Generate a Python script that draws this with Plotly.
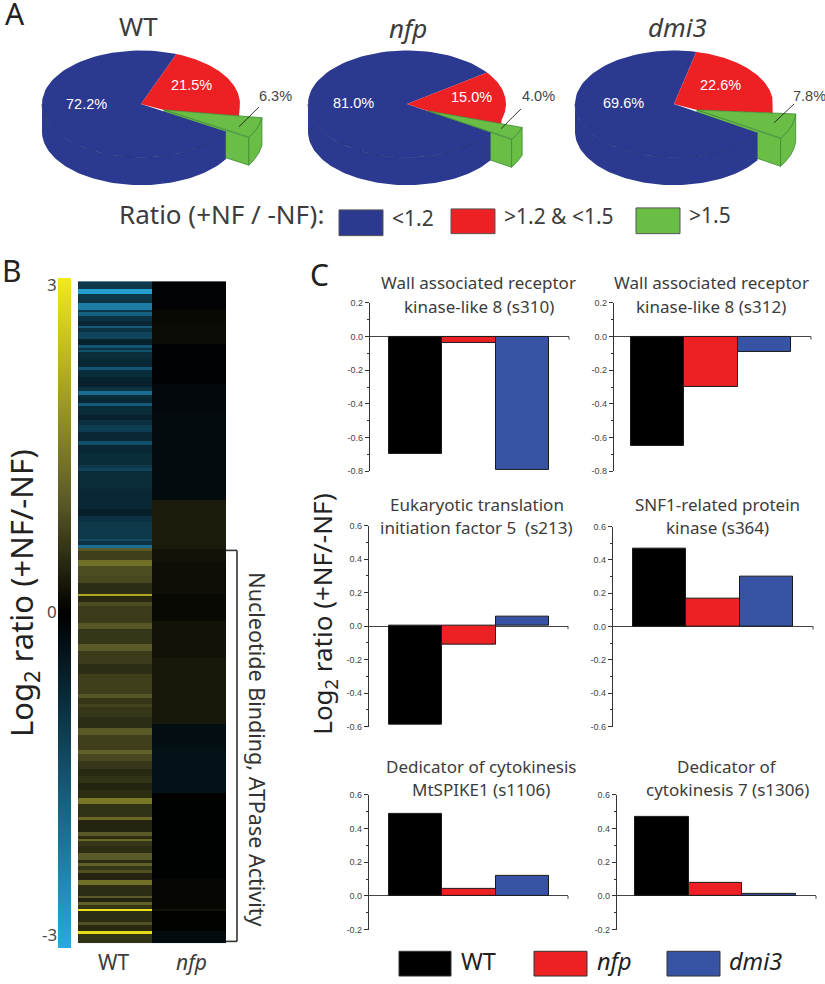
import numpy as np
import plotly.graph_objects as go

W, H = 825, 984

# ---------- data ----------
pie_names = ["WT", "nfp", "dmi3"]
pie_low = [72.2, 81.0, 69.6]
pie_mid = [21.5, 15.0, 22.6]
pie_high = [6.3, 4.0, 7.8]

bar_titles = [
    ["Wall associated receptor", "kinase-like 8 (s310)"],
    ["Wall associated receptor", "kinase-like 8 (s312)"],
    ["Eukaryotic translation", "initiation factor 5  (s213)"],
    ["SNF1-related protein", "kinase (s364)"],
    ["Dedicator of cytokinesis", "MtSPIKE1 (s1106)"],
    ["Dedicator of", "cytokinesis 7 (s1306)"],
]
bar_wt = [-0.70, -0.65, -0.59, 0.47, 0.49, 0.47]
bar_nfp = [-0.04, -0.30, -0.11, 0.165, 0.04, 0.08]
bar_dmi3 = [-0.79, -0.09, 0.055, 0.30, 0.12, 0.01]

wt_runs = [8,5,5,4,7,2,4,5,5,2,4,7,7,3,2,2,6,9,3,7,10,4,4,3,5,3,9,5,5,7,10,4,8,12,3,3,18,20,
           7,6,18,2,4,3,
           3,9,6,10,7,2,9,2,6,4,17,7,15,7,13,10,20,4,6,3,10,12,7,12,
           3,4,7,8,7,7,7,8,6,14,3,12,4,3,2,5,7,7,3,3,4,3,7,5,11,2,4,3,4,2,12,3,6,3,9]
wt_vals = [-1.0,-2.8,-1.0,-0.9,-2.2,-1.0,-1.7,-0.9,-0.7,-1.6,-0.9,-1.2,-0.6,-1.5,-0.9,-1.4,-0.8,-0.7,-1.5,-0.8,-0.6,-0.9,-1.9,-0.8,-0.7,-1.6,-0.8,-0.6,-0.85,-1.1,-0.7,-1.4,-0.7,-0.8,-1.0,-1.2,-0.75,-0.7,
           -0.55,-0.9,-1.0,-1.3,-0.9,-2.0,
           1.0,0.7,1.3,0.85,0.8,0.5,0.5,2.1,0.45,0.85,0.65,0.95,0.6,1.0,0.65,0.5,0.7,0.95,0.6,0.75,0.6,0.5,1.0,0.7,
           0.7,1.1,0.8,0.6,0.45,0.55,0.4,0.5,1.4,0.55,1.2,0.4,1.0,0.5,1.2,0.6,0.5,1.0,0.5,1.1,0.6,0.9,0.4,1.3,0.5,1.0,0.4,1.1,0.6,2.9,0.5,0.9,0.45,2.8,0.55]
nfp_runs = [28,13,23,40,30,87,10,40,13,33,27,37,67,23,47,87,30,2,21,12]
nfp_vals = [-0.05,0.1,0.12,-0.04,-0.15,-0.2,0.3,0.3,0.2,0.15,0.1,0.2,0.25,-0.25,-0.3,-0.03,0.07,0.2,0.02,-0.2]

heat_ticks = [3, 0, -3]

# ---------- colours ----------
BLUE, RED, GREEN = "#2B3990", "#ED2024", "#6ABD45"
BAR_BLUE = "#3953A4"
TXT = "#3c3c3c"
SANS = "Noto Sans, sans-serif"
HELV = "Liberation Sans, sans-serif"
NARROW = "Liberation Sans Narrow, Liberation Sans, sans-serif"

fig = go.Figure()
ann = []
shapes = []


def text(x, y, s, size, color=TXT, font=SANS, angle=0, anchor="center"):
    if angle == 0:
        y -= 0.19 * size
    ann.append(dict(x=x / W, y=1 - y / H, xref="paper", yref="paper", text=s, showarrow=False,
                    xanchor=anchor, yanchor="middle", textangle=angle,
                    font=dict(size=size, color=color, family=font)))


def rect(x0, y0, x1, y1, fill, line="#444444"):
    shapes.append(dict(type="rect", xref="paper", yref="paper", x0=x0 / W, x1=x1 / W,
                       y0=1 - y0 / H, y1=1 - y1 / H, fillcolor=fill, line=dict(color=line, width=1)))


def pline(x0, y0, x1, y1, color="#333333", width=1.0):
    shapes.append(dict(type="line", xref="paper", yref="paper", x0=x0 / W, x1=x1 / W,
                       y0=1 - y0 / H, y1=1 - y1 / H, line=dict(color=color, width=width)))


# ---------- A: pies (extruded ellipses computed from the percentages) ----------
RX, RY, DEPTH = 99, 54, 28
pie_layout = [
    dict(cx=141, cy=100, start=69, dx=23, dy=6, low=(86, 103), mid=(191, 84), hi=(275, 95), lead=(239, 123, 259, 103)),
    dict(cx=407, cy=100, start=36, dx=21, dy=7, low=(353, 102), mid=(471, 96), hi=(538, 95), lead=(501, 125, 521, 105)),
    dict(cx=674, cy=100, start=77, dx=23, dy=6, low=(623, 102), mid=(720, 84), hi=(809, 95), lead=(774, 119, 794, 100)),
]


def arc(cx, cy, a1, a2):
    t = np.radians(np.linspace(a1, a2, 90))
    return cx + RX * np.cos(t), cy - RY * np.sin(t)


def poly(xs, ys, fill, line=None, lw=0.8):
    fig.add_trace(go.Scatter(x=xs, y=ys, mode="lines", fill="toself", fillcolor=fill,
                             line=dict(color=line or fill, width=lw if line else 0),
                             hoverinfo="skip", showlegend=False, xaxis="x", yaxis="y"))


for i, p in enumerate(pie_layout):
    cx, cy, a0 = p["cx"], p["cy"], p["start"]
    a_red = a0 - 3.6 * pie_mid[i]
    a_grn = a_red - 3.6 * pie_high[i]
    a_blue = a_grn + 360
    gx, gy = cx + p["dx"], cy + p["dy"]
    EDGE = "#3f8a35"

    # green cut face (behind the blue body)
    ex, ey = arc(gx, gy, a_grn, a_grn)
    poly([gx, ex[0], ex[0], gx, gx], [gy, ey[0], ey[0] + DEPTH, gy + DEPTH, gy], GREEN, EDGE)

    # blue wall and top
    wx, wy = arc(cx, cy, 180, a_blue)
    poly(np.r_[wx, wx[::-1]], np.r_[wy, wy[::-1] + DEPTH], BLUE)
    bx, by = arc(cx, cy, a0, a_blue)
    poly(np.r_[cx, bx, cx], np.r_[cy, by, cy], BLUE)
    fig.add_trace(go.Scatter(x=wx, y=wy, mode="lines", line=dict(color="#26307c", width=0.8),
                             hoverinfo="skip", showlegend=False, xaxis="x", yaxis="y"))

    # green outer arc, used below and for closing the red slice against it
    ox, oy = arc(gx, gy, a_grn, a_red)

    # red slice, running down to the upper edge of the pulled-out green slice
    rx, ry = arc(cx, cy, a_red, a0)
    slope = (oy[-1] - gy) / (ox[-1] - gx)
    poly(np.r_[cx, gx, rx[0], rx, cx], np.r_[cy, gy, gy + slope * (rx[0] - gx), ry, cy], RED)

    # green outer wall and top
    poly(np.r_[ox, ox[::-1], ox[0]], np.r_[oy, oy[::-1] + DEPTH, oy[0]], GREEN, EDGE)
    poly(np.r_[gx, ox, gx], np.r_[gy, oy, gy], GREEN, EDGE)

    # leader and labels
    lx0, ly0, lx1, ly1 = p["lead"]
    pline(lx0, ly0, lx1, ly1, "#222222", 0.9)
    text(*p["low"], f"{pie_low[i]:.1f}%", 14.5, "#ffffff", HELV)
    text(*p["mid"], f"{pie_mid[i]:.1f}%", 14.5, "#ffffff", HELV)
    text(*p["hi"], f"{pie_high[i]:.1f}%", 14.5, "#444444", HELV)

text(15, 14, "A", 30, "#222222")
text(138, 26, "WT", 26)
text(408, 28, "<i>nfp</i>", 26)
text(677, 27, "<i>dmi3</i>", 26)

# ratio legend
text(221, 216, "Ratio (+NF / -NF):", 26)
for (x0, y0, x1, y1, c) in [(339, 207, 383, 233, BLUE), (451, 206, 495, 231, RED), (636, 205, 680, 231, GREEN)]:
    rect(x0, y0, x1, y1, c, "#555555")
text(390, 219, "&lt;1.2", 21, anchor="left")
text(502, 217, "&gt;1.2 &amp; &lt;1.5", 21, anchor="left")
text(687, 216, "&gt;1.5", 21, anchor="left")

# ---------- B: heatmap ----------
wt_rows = np.repeat(wt_vals, wt_runs)
nfp_rows = np.repeat(nfp_vals, nfp_runs)
colorscale = [[0, "#27AAE1"], [0.5, "#000000"], [4 / 6, "#5A5A28"], [1, "#F2EA1A"]]

for col, rows, xa, ya in [("WT", wt_rows, "x2", "y2"), ("nfp", nfp_rows, "x3", "y3")]:
    fig.add_trace(go.Heatmap(z=np.array(rows).reshape(-1, 1), x=[col], y=np.arange(len(rows)) + 0.5,
                             zmin=-3, zmax=3, colorscale=colorscale, xaxis=xa, yaxis=ya,
                             hoverinfo="skip", showscale=col == "WT",
                             colorbar=dict(x=58 / W, xanchor="left", thickness=13, thicknessmode="pixels",
                                           len=670, lenmode="pixels", y=1 - 614 / H, yanchor="middle",
                                           xpad=0, ypad=0, outlinewidth=0, ticks="", showticklabels=False,
                                           tickvals=heat_ticks)))

for yv, ypx, xpx in [(heat_ticks[0], 286, 52), (heat_ticks[1], 616, 52), (heat_ticks[2], 942, 49)]:
    text(xpx, ypx, str(yv), 17, "#4a4a4a")
text(114, 971, "WT", 21)
text(191, 971, "<i>nfp</i>", 21)
text(12, 274, "B", 30, "#222222")
text(23, 594, "Log<sub>2</sub> ratio (+NF/-NF)", 31, "#222222", angle=-90)
pline(226, 551, 237, 551, "#333333", 1.6)
pline(237, 551, 237, 946, "#333333", 1.6)
pline(226, 946, 237, 946, "#333333", 1.6)
text(258, 752, "Nucleotide Binding, ATPase Activity", 21.5, "#333333", angle=90)

# ---------- C: bars ----------
text(319, 278, "C", 30, "#222222")
text(323, 616, "Log<sub>2</sub> ratio (+NF/-NF)", 26, "#222222", angle=-90)

bar_layout = [
    dict(ax=370, b0=389, b3=549, end=569, top=301, bot=471, lo=-0.8, hi=0.2),
    dict(ax=614, b0=631, b3=791, end=811, top=301, bot=471, lo=-0.8, hi=0.2),
    dict(ax=369, b0=389, b3=549, end=568, top=526, bot=729, lo=-0.6, hi=0.6),
    dict(ax=613, b0=633, b3=793, end=813, top=527, bot=729, lo=-0.6, hi=0.6),
    dict(ax=369, b0=389, b3=549, end=568, top=798, bot=934, lo=-0.2, hi=0.6),
    dict(ax=617, b0=635, b3=796, end=816, top=798, bot=934, lo=-0.2, hi=0.6),
]
title_pos = [(479, 284, 308), (711, 284, 308), (477, 508, 531), (717, 508, 531), (481, 773, 796), (727, 773, 796)]
series = [("WT", bar_wt, "#000000"), ("nfp", bar_nfp, RED), ("dmi3", bar_dmi3, BAR_BLUE)]
axes = {}

for i, b in enumerate(bar_layout):
    xa, ya = f"x{i + 4}", f"y{i + 4}"
    xk, yk = f"xaxis{i + 4}", f"yaxis{i + 4}"
    w = (b["b3"] - b["b0"]) / 3
    fig.add_trace(go.Bar(x=[s[0] for s in series], y=[s[1][i] for s in series], width=1,
                         marker=dict(color=[s[2] for s in series], line=dict(color="#1a1a1a", width=1)),
                         xaxis=xa, yaxis=ya, showlegend=False, hoverinfo="skip"))
    axes[xk] = dict(domain=[b["ax"] / W, b["end"] / W], anchor=ya, type="category",
                    range=[-0.5 - (b["b0"] - b["ax"]) / w, 2.5 + (b["end"] - b["b3"]) / w],
                    showticklabels=False, ticks="", showgrid=False, zeroline=False, showline=False)
    tv = [round(b["lo"] + 0.2 * k, 1) for k in range(int(round((b["hi"] - b["lo"]) / 0.2)) + 1)]
    axes[yk] = dict(domain=[1 - b["bot"] / H, 1 - b["top"] / H], anchor=xa, range=[b["lo"], b["hi"]],
                    tickvals=tv, ticktext=[f"{v:.1f}" for v in tv], ticks="outside", ticklen=4, tickwidth=1,
                    tickcolor="#333333", showgrid=False, showline=True, linecolor="#333333", linewidth=1.2,
                    zeroline=True, zerolinecolor="#444444", zerolinewidth=1.2,
                    tickfont=dict(family=NARROW, size=9, color="#444444"),
                    minor=dict(ticks="outside", ticklen=2, tickwidth=1, tickcolor="#333333", dtick=0.1, tick0=0, showgrid=False))
    zero_y = b["top"] + (b["hi"] / (b["hi"] - b["lo"])) * (b["bot"] - b["top"])
    pline(b["end"], zero_y, b["end"], zero_y + 3, "#444444", 1)
    tx, ty1, ty2 = title_pos[i]
    text(tx, ty1, bar_titles[i][0], 17)
    text(tx, ty2, bar_titles[i][1], 17)

# bar legend
for (x0, x1, c, tx, s) in [(399, 451, "#000000", 459, "WT"), (534, 587, RED, 595, "<i>nfp</i>"), (667, 720, BAR_BLUE, 727, "<i>dmi3</i>")]:
    rect(x0, 956, x1, 981, c, "#333333")
    text(tx, 970, s, 23.5, "#222222", anchor="left")

# ---------- layout ----------
hidden = dict(showticklabels=False, ticks="", showgrid=False, zeroline=False, showline=False)
fig.update_layout(
    width=W, height=H, autosize=False, margin=dict(l=0, r=0, t=0, b=0),
    paper_bgcolor="white", plot_bgcolor="rgba(0,0,0,0)", showlegend=False, bargap=0,
    xaxis=dict(domain=[0, 1], range=[0, W], anchor="y", **hidden),
    yaxis=dict(domain=[0, 1], range=[H, 0], anchor="x", **hidden),
    xaxis2=dict(domain=[78 / W, 152 / W], anchor="y2", **hidden),
    yaxis2=dict(domain=[1 - 948 / H, 1 - 279 / H], anchor="x2", range=[len(wt_rows), 0], **hidden),
    xaxis3=dict(domain=[152 / W, 226 / W], anchor="y3", **hidden),
    yaxis3=dict(domain=[1 - 948 / H, 1 - 279 / H], anchor="x3", range=[len(nfp_rows), 0], **hidden),
    annotations=ann, shapes=shapes,
    **axes,
)
fig.write_html("out.html", config={"displayModeBar": False},
               post_script="document.body.style.margin='0';document.documentElement.style.overflow='hidden';")
